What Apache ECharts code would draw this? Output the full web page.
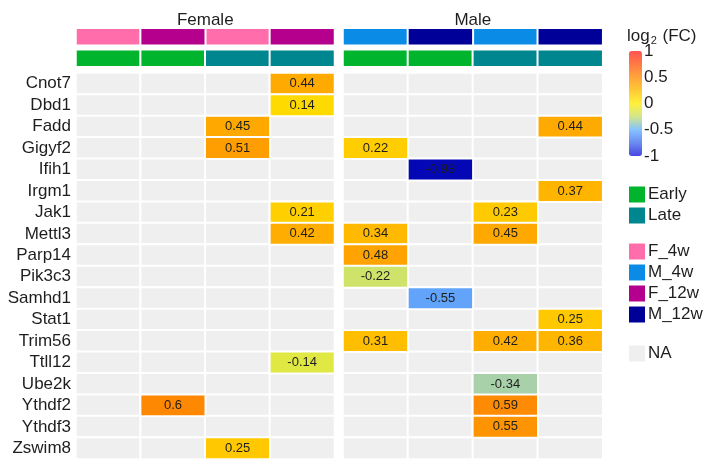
<!DOCTYPE html>
<html>
<head>
<meta charset="utf-8">
<script src="https://cdn.jsdelivr.net/npm/echarts@6/dist/echarts.min.js"></script>
<style>
html, body { margin: 0; padding: 0; background: #fff; }
#chart { width: 704px; height: 459px; }
</style>
</head>
<body>
<div id="chart"></div>
<script>
// Genes (rows, top to bottom)
const genes = ['Cnot7', 'Dbd1', 'Fadd', 'Gigyf2', 'Ifih1', 'Irgm1', 'Jak1', 'Mettl3',
  'Parp14', 'Pik3c3', 'Samhd1', 'Stat1', 'Trim56', 'Ttll12', 'Ube2k', 'Ythdf2', 'Ythdf3', 'Zswim8'];

// Column annotations
const femaleGroups = ['F_4w', 'F_12w', 'F_4w', 'F_12w'];
const maleGroups = ['M_4w', 'M_12w', 'M_4w', 'M_12w'];
const phases = ['Early', 'Early', 'Late', 'Late'];
const groupLegend = ['F_4w', 'M_4w', 'F_12w', 'M_12w'];
const phaseLegend = ['Early', 'Late'];

// log2 fold change, one row per gene, one entry per column (null = NA)
const femaleFC = [
  [null, null, null, 0.44],   // Cnot7
  [null, null, null, 0.14],   // Dbd1
  [null, null, 0.45, null],   // Fadd
  [null, null, 0.51, null],   // Gigyf2
  [null, null, null, null],   // Ifih1
  [null, null, null, null],   // Irgm1
  [null, null, null, 0.21],   // Jak1
  [null, null, null, 0.42],   // Mettl3
  [null, null, null, null],   // Parp14
  [null, null, null, null],   // Pik3c3
  [null, null, null, null],   // Samhd1
  [null, null, null, null],   // Stat1
  [null, null, null, null],   // Trim56
  [null, null, null, -0.14],  // Ttll12
  [null, null, null, null],   // Ube2k
  [null, 0.6, null, null],    // Ythdf2
  [null, null, null, null],   // Ythdf3
  [null, null, 0.25, null]    // Zswim8
];
const maleFC = [
  [null, null, null, null],   // Cnot7
  [null, null, null, null],   // Dbd1
  [null, null, null, 0.44],   // Fadd
  [0.22, null, null, null],   // Gigyf2
  [null, -0.98, null, null],  // Ifih1
  [null, null, null, 0.37],   // Irgm1
  [null, null, 0.23, null],   // Jak1
  [0.34, null, 0.45, null],   // Mettl3
  [0.48, null, null, null],   // Parp14
  [-0.22, null, null, null],  // Pik3c3
  [null, -0.55, null, null],  // Samhd1
  [null, null, null, 0.25],   // Stat1
  [0.31, null, 0.42, 0.36],   // Trim56
  [null, null, null, null],   // Ttll12
  [null, null, -0.34, null],  // Ube2k
  [null, null, 0.59, null],   // Ythdf2
  [null, null, 0.55, null],   // Ythdf3
  [null, null, null, null]    // Zswim8
];

// Colour scale range and colour-bar ticks
const fcMin = -1;
const fcMax = 1;
const fcTickStep = 0.5;

// ---- styling ----
const FONT = 'Liberation Sans, Arial, Helvetica, sans-serif';
const TEXT = '#1e1e1e';
const annotationColors = {
  F_4w: '#ff6eab', F_12w: '#b5008e', M_4w: '#0a8ce6', M_12w: '#000099',
  Early: '#00b52d', Late: '#00868f', NA: '#efefef'
};
const cellPalette = ['#0000b0', '#2c5ae6', '#6eb6ff', '#c8e078', '#fff200',
  '#ffc800', '#ffa000', '#ff6408', '#ff3030'];
const barPalette = ['#4646e0', '#6a8cf0', '#86c2ff', '#d2e68c', '#fff03c',
  '#ffca34', '#ffa43c', '#ff7a44', '#ff5454'];

const colIdx = [0, 1, 2, 3];
const cols = colIdx.map(String);

const allCells = [];
genes.forEach((g, r) => colIdx.forEach(c => allCells.push([c, r, 0])));

function valueCells(matrix) {
  const out = [];
  matrix.forEach((row, r) => row.forEach((v, c) => {
    if (v !== null) out.push([c, r, v]);
  }));
  return out;
}

function annotationCells(labels, name) {
  const out = [];
  labels.forEach((l, c) => { if (l === name) out.push([c, 0, 1]); });
  return out;
}

const cellBorder = { borderColor: '#ffffff', borderWidth: 2 };

const grids = [
  { left: 76, top: 73, width: 258.5, height: 388.8 },   // 0 female cells
  { left: 343, top: 73, width: 259.7, height: 388.8 },  // 1 male cells
  { left: 76, top: 28.3, width: 258.5, height: 17 },    // 2 female group bar
  { left: 343, top: 28.3, width: 259.7, height: 17 },   // 3 male group bar
  { left: 76, top: 49.7, width: 258.5, height: 17 },    // 4 female phase bar
  { left: 343, top: 49.7, width: 259.7, height: 17 },   // 5 male phase bar
  { left: 629, top: 51, width: 13, height: 105 }        // 6 colour-bar ticks
];

const hiddenCat = (gi) => ({
  type: 'category', gridIndex: gi, data: cols, show: false
});

const titledCat = (gi, title) => ({
  type: 'category', gridIndex: gi, data: cols, position: 'top',
  axisLine: { show: false }, axisTick: { show: false }, axisLabel: { show: false },
  name: title, nameLocation: 'middle', nameGap: -1,
  nameTextStyle: { fontSize: 17, color: TEXT, fontFamily: FONT }
});

const xAxes = [
  hiddenCat(0), hiddenCat(1),
  titledCat(2, 'Female'), titledCat(3, 'Male'),
  hiddenCat(4), hiddenCat(5),
  { type: 'value', gridIndex: 6, show: false, min: 0, max: 1 }
];

const yAxes = [
  {
    type: 'category', gridIndex: 0, data: genes, inverse: true,
    axisLine: { show: false }, axisTick: { show: false },
    axisLabel: { interval: 0, fontSize: 17, color: TEXT, margin: 5, fontFamily: FONT }
  },
  { type: 'category', gridIndex: 1, data: genes, inverse: true, show: false },
  { type: 'category', gridIndex: 2, data: ['g'], show: false },
  { type: 'category', gridIndex: 3, data: ['g'], show: false },
  { type: 'category', gridIndex: 4, data: ['p'], show: false },
  { type: 'category', gridIndex: 5, data: ['p'], show: false },
  {
    type: 'value', gridIndex: 6, min: fcMin, max: fcMax, interval: fcTickStep,
    position: 'right',
    axisLine: { show: false }, axisTick: { show: false }, splitLine: { show: false },
    axisLabel: { fontSize: 17, color: TEXT, margin: 2, fontFamily: FONT }
  }
];

const valueLabel = {
  show: true,
  formatter: p => String(p.value[2]),
  fontSize: 13, color: TEXT, fontFamily: FONT
};

const series = [
  { name: 'NA', type: 'heatmap', xAxisIndex: 0, yAxisIndex: 0, data: allCells,
    itemStyle: Object.assign({ color: annotationColors.NA }, cellBorder), silent: true },
  { name: 'NA', type: 'heatmap', xAxisIndex: 1, yAxisIndex: 1, data: allCells,
    itemStyle: Object.assign({ color: annotationColors.NA }, cellBorder), silent: true },
  { name: 'female', type: 'heatmap', xAxisIndex: 0, yAxisIndex: 0,
    data: valueCells(femaleFC), itemStyle: cellBorder, label: valueLabel },
  { name: 'male', type: 'heatmap', xAxisIndex: 1, yAxisIndex: 1,
    data: valueCells(maleFC), itemStyle: cellBorder, label: valueLabel }
];

function addAnnotation(labels, gi) {
  Array.from(new Set(labels)).forEach(name => {
    series.push({
      name: name, type: 'heatmap', xAxisIndex: gi, yAxisIndex: gi,
      data: annotationCells(labels, name),
      itemStyle: Object.assign({ color: annotationColors[name] }, cellBorder),
      silent: true
    });
  });
}
addAnnotation(femaleGroups, 2);
addAnnotation(maleGroups, 3);
addAnnotation(phases, 4);
addAnnotation(phases, 5);

const legendBase = {
  orient: 'vertical', left: 629, padding: 0, itemWidth: 16, itemHeight: 16,
  itemGap: 4, icon: 'rect', selectedMode: false,
  itemStyle: { borderWidth: 0 },
  textStyle: { fontSize: 17, color: TEXT, fontFamily: FONT, lineHeight: 16, padding: [0, 0, 0, -2] }
};

const option = {
  animation: false,
  textStyle: { fontFamily: FONT },
  title: {
    text: '{a|log}{b|2}{a| (FC)}',
    left: 627, top: 26, padding: 0,
    textStyle: {
      fontWeight: 'normal',
      rich: {
        a: { fontSize: 17, fontWeight: 'normal', color: TEXT, fontFamily: FONT, lineHeight: 20 },
        b: { fontSize: 11, fontWeight: 'normal', color: TEXT, fontFamily: FONT, padding: [9, 1, 0, 1] }
      }
    }
  },
  grid: grids,
  xAxis: xAxes,
  yAxis: yAxes,
  visualMap: {
    type: 'continuous', min: fcMin, max: fcMax, seriesIndex: [2, 3],
    calculable: false, left: 629, top: 51, padding: 0,
    itemWidth: 13, itemHeight: 105,
    inRange: { color: cellPalette },
    controller: { inRange: { color: barPalette } }
  },
  legend: [
    Object.assign({ top: 186, data: phaseLegend }, legendBase),
    Object.assign({ top: 243, data: groupLegend }, legendBase),
    Object.assign({ top: 345, data: ['NA'] }, legendBase)
  ],
  series: series
};

const chart = echarts.init(document.getElementById('chart'), null, { renderer: 'canvas' });
chart.setOption(option);
</script>
</body>
</html>
